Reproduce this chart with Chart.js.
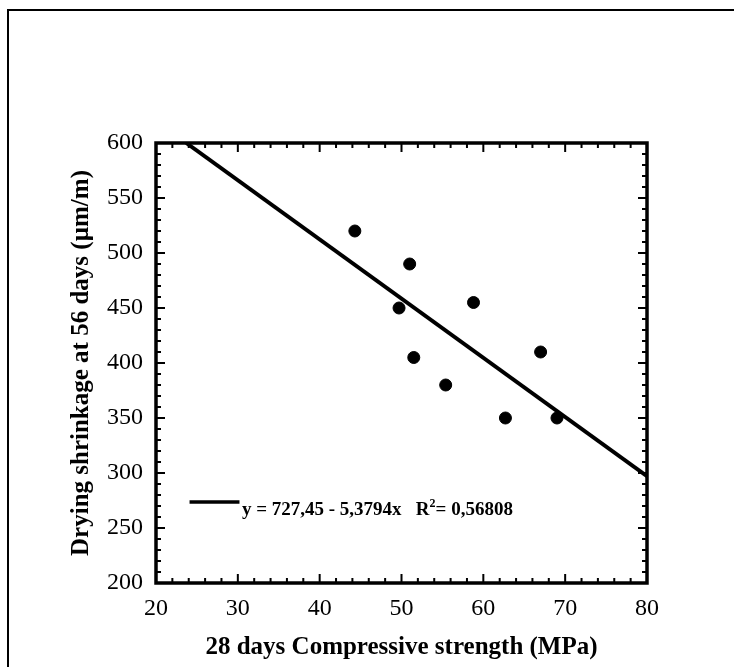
<!DOCTYPE html>
<html>
<head>
<meta charset="utf-8">
<script src="https://cdn.jsdelivr.net/npm/chart.js@4"></script>
<style>
  html, body { margin: 0; padding: 0; background: #fff; }
  #frame { position: absolute; left: 7px; top: 9px; width: 760px; height: 700px;
           border-left: 2px solid #000; border-top: 2px solid #000; }
  #wrap { position: absolute; left: 0; top: 0; width: 734px; height: 667px; }
</style>
</head>
<body>
<div id="frame"></div>
<div id="wrap"><canvas id="myChart" width="734" height="667"></canvas></div>
<script>
// nilai
const strength = [44.3, 51.0, 49.7, 58.8, 51.5, 55.4, 67.0, 62.7, 69.0];
const shrinkage = [520, 490, 450, 455, 405, 380, 410, 350, 350];
// garis regresi y = 727,45 - 5,3794x (ujung-ujung)
const fitX = [23.7, 80];
const fitY = [600, 297.1];
const xTicks = [20, 30, 40, 50, 60, 70, 80];
const yTicks = [200, 250, 300, 350, 400, 450, 500, 550, 600];
const eqText = 'y = 727,45 - 5,3794x   R';
const r2Text = '= 0,56808';

const serif = "'Liberation Serif', 'Times New Roman', serif";

// bingkai tebal + tick ke dalam
const framePlugin = {
    id: 'frameTicks',
    afterDatasetsDraw(chart) {
        const {ctx, chartArea: a, scales: {x, y}} = chart;
        ctx.save();
        ctx.strokeStyle = '#000';
        ctx.lineWidth = 2;
        ctx.beginPath();
        for (let v = 20; v <= 80; v += 2) {
            const px = x.getPixelForValue(v);
            const len = v % 10 === 0 ? 9 : 5;
            ctx.moveTo(px, a.bottom); ctx.lineTo(px, a.bottom - len);
            ctx.moveTo(px, a.top); ctx.lineTo(px, a.top + len);
        }
        for (let v = 200; v <= 600; v += 10) {
            const py = y.getPixelForValue(v);
            const len = v % 50 === 0 ? 9 : 5;
            ctx.moveTo(a.left, py); ctx.lineTo(a.left + len, py);
            ctx.moveTo(a.right, py); ctx.lineTo(a.right - len, py);
        }
        ctx.stroke();
        ctx.lineWidth = 3.5;
        ctx.strokeRect(a.left, a.top, a.right - a.left, a.bottom - a.top);

        // legenda persamaan
        const ly = y.getPixelForValue(273.6);
        ctx.lineWidth = 3.5;
        ctx.beginPath();
        ctx.moveTo(x.getPixelForValue(24.1), ly);
        ctx.lineTo(x.getPixelForValue(30.2), ly);
        ctx.stroke();
        ctx.fillStyle = '#000';
        ctx.textBaseline = 'alphabetic';
        ctx.font = 'bold 19px ' + serif;
        let tx = x.getPixelForValue(30.5);
        const ty = ly + 13;
        ctx.fillText(eqText, tx, ty);
        tx += ctx.measureText(eqText).width;
        ctx.font = 'bold 12px ' + serif;
        ctx.fillText('2', tx, ty - 8);
        tx += ctx.measureText('2').width;
        ctx.font = 'bold 19px ' + serif;
        ctx.fillText(r2Text, tx, ty);
        ctx.restore();
    }
};

document.addEventListener("DOMContentLoaded", function () {
    const ctx = document.getElementById("myChart");
    new Chart(ctx, {
        type: 'scatter',
        data: {
            datasets: [{
                label: 'Data',
                data: strength.map((v, i) => ({x: v, y: shrinkage[i]})),
                backgroundColor: '#000',
                borderColor: '#000',
                pointRadius: 6,
                pointHoverRadius: 6
            }, {
                label: 'Regresi',
                data: fitX.map((v, i) => ({x: v, y: fitY[i]})),
                showLine: true,
                borderColor: '#000',
                borderWidth: 4,
                pointRadius: 0
            }]
        },
        options: {
            responsive: false,
            animation: false,
            layout: { padding: { top: 143, right: 87, left: 0, bottom: 0 } },
            plugins: { legend: { display: false }, tooltip: { enabled: false } },
            scales: {
                x: {
                    type: 'linear',
                    min: 20, max: 80,
                    afterBuildTicks: s => { s.ticks = xTicks.map(v => ({value: v})); },
                    afterFit: s => { s.height = 84; },
                    grid: { display: false, drawTicks: false },
                    border: { display: false },
                    ticks: { color: '#000', padding: 11, maxRotation: 0,
                             font: { family: serif, size: 24 } },
                    title: { display: true, text: '28 days Compressive strength (MPa)',
                             color: '#000', padding: { top: 0, bottom: 4 },
                             font: { family: serif, size: 25, weight: 'bold' } }
                },
                y: {
                    type: 'linear',
                    min: 200, max: 600,
                    afterBuildTicks: s => { s.ticks = yTicks.map(v => ({value: v})); },
                    afterFit: s => { s.width = 156; },
                    grid: { display: false, drawTicks: false },
                    border: { display: false },
                    ticks: { color: '#000', padding: 13,
                             font: { family: serif, size: 24 } },
                    title: { display: true, text: 'Drying shrinkage at 56 days (µm/m)',
                             color: '#000', padding: { top: 67, bottom: 0 },
                             font: { family: serif, size: 25, weight: 'bold' } }
                }
            }
        },
        plugins: [framePlugin]
    });
});
</script>
</body>
</html>
